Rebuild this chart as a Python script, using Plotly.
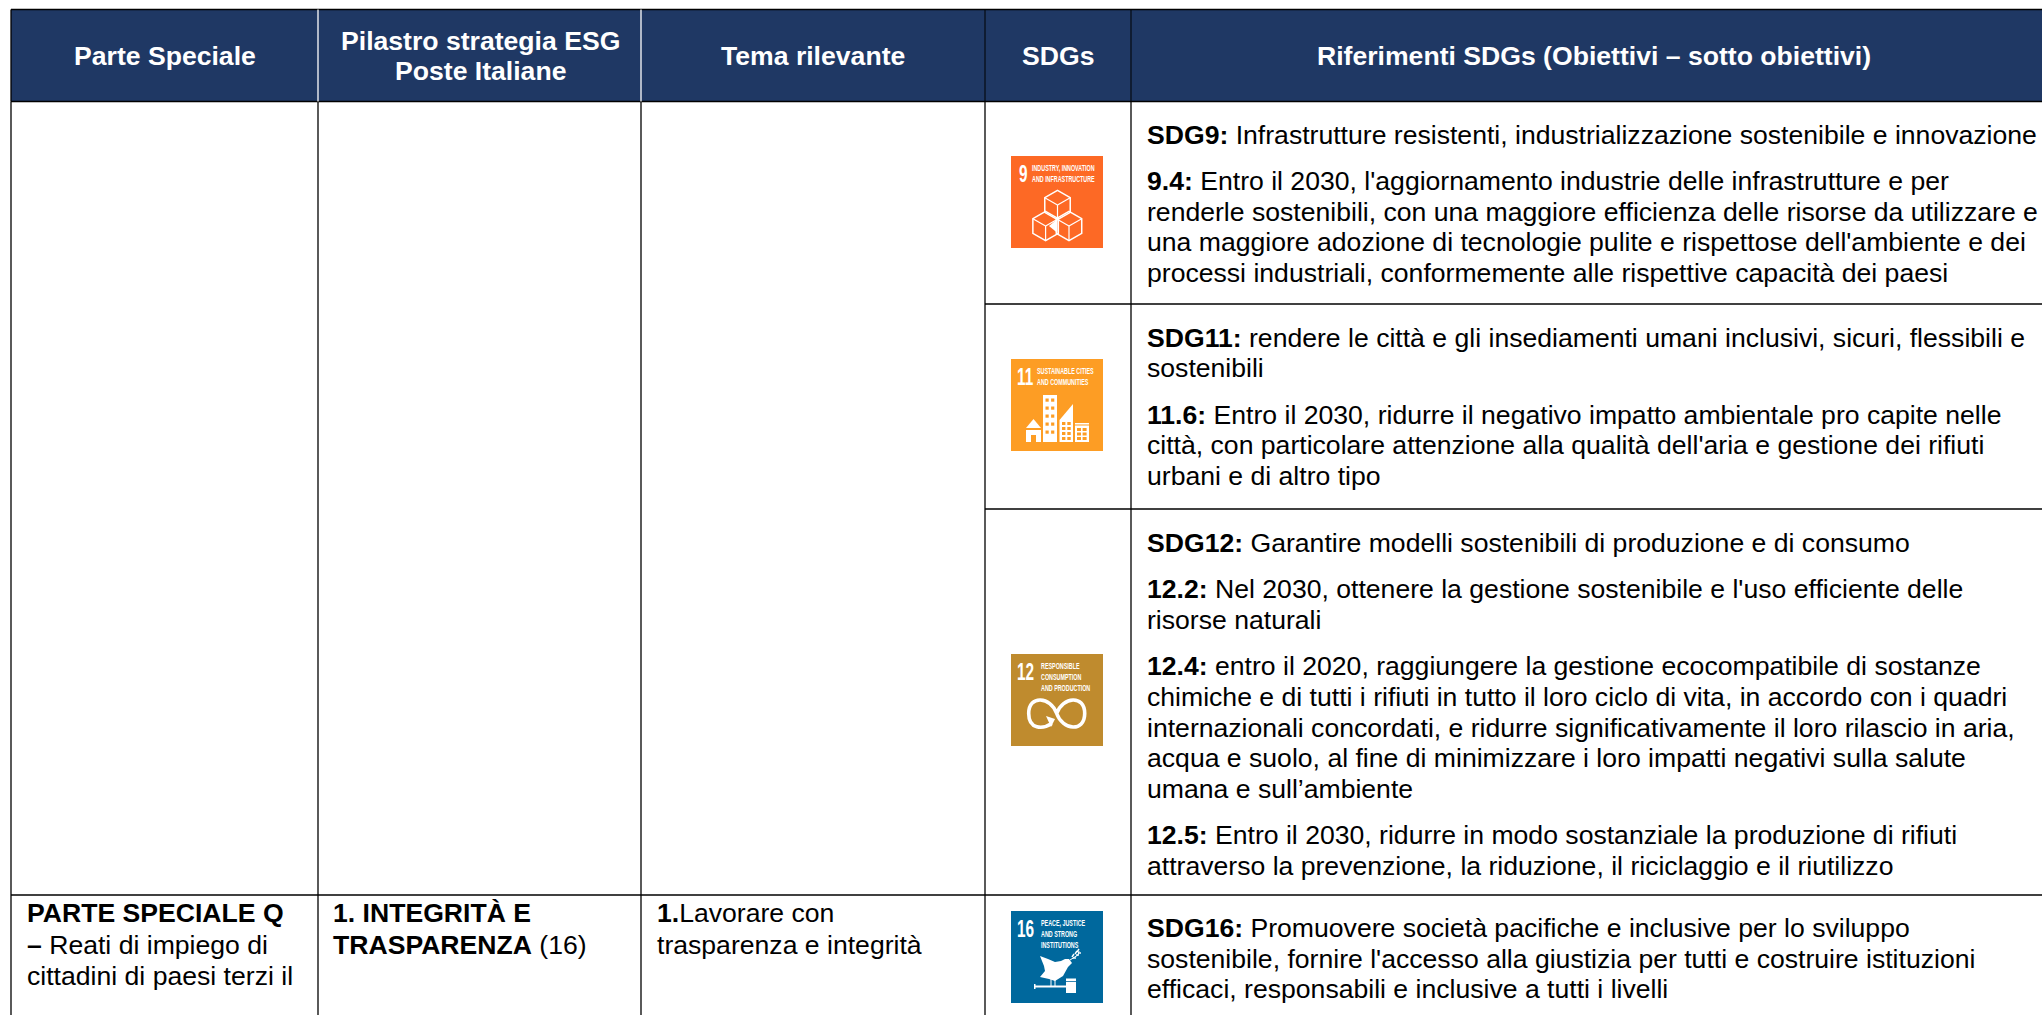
import plotly.graph_objects as go

# ---------- content ----------
header_labels = ["Parte Speciale", "Pilastro strategia ESG<br>Poste Italiane", "Tema rilevante", "SDGs",
                 "Riferimenti SDGs (Obiettivi – sotto obiettivi)"]

refs_sdg9 = [
    ("SDG9:", ["Infrastrutture resistenti, industrializzazione sostenibile e innovazione"]),
    ("9.4:", ["Entro il 2030, l'aggiornamento industrie delle infrastrutture e per",
              "renderle sostenibili, con una maggiore efficienza delle risorse da utilizzare e",
              "una maggiore adozione di tecnologie pulite e rispettose dell'ambiente e dei",
              "processi industriali, conformemente alle rispettive capacità dei paesi"]),
]
refs_sdg11 = [
    ("SDG11:", ["rendere le città e gli insediamenti umani inclusivi, sicuri, flessibili e", "sostenibili"]),
    ("11.6:", ["Entro il 2030, ridurre il negativo impatto ambientale pro capite nelle",
               "città, con particolare attenzione alla qualità dell'aria e gestione dei rifiuti",
               "urbani e di altro tipo"]),
]
refs_sdg12 = [
    ("SDG12:", ["Garantire modelli sostenibili di produzione e di consumo"]),
    ("12.2:", ["Nel 2030, ottenere la gestione sostenibile e l'uso efficiente delle", "risorse naturali"]),
    ("12.4:", ["entro il 2020, raggiungere la gestione ecocompatibile di sostanze",
               "chimiche e di tutti i rifiuti in tutto il loro ciclo di vita, in accordo con i quadri",
               "internazionali concordati, e ridurre significativamente il loro rilascio in aria,",
               "acqua e suolo, al fine di minimizzare i loro impatti negativi sulla salute",
               "umana e sull’ambiente"]),
    ("12.5:", ["Entro il 2030, ridurre in modo sostanziale la produzione di rifiuti",
               "attraverso la prevenzione, la riduzione, il riciclaggio e il riutilizzo"]),
]
refs_sdg16 = [
    ("SDG16:", ["Promuovere società pacifiche e inclusive per lo sviluppo",
                "sostenibile, fornire l'accesso alla giustizia per tutti e costruire istituzioni",
                "efficaci, responsabili e inclusive a tutti i livelli"]),
]
col1_lines = ["<b>PARTE SPECIALE Q</b>", "<b>–</b> Reati di impiego di", "cittadini di paesi terzi il"]
col2_lines = ["<b>1. INTEGRITÀ E</b>", "<b>TRASPARENZA</b> (16)"]
col3_lines = ["<b>1.</b>Lavorare con", "trasparenza e integrità"]

icon_numbers = ["9", "11", "12", "16"]
icon_labels = [["INDUSTRY, INNOVATION", "AND INFRASTRUCTURE"],
               ["SUSTAINABLE CITIES", "AND COMMUNITIES"],
               ["RESPONSIBLE", "CONSUMPTION", "AND PRODUCTION"],
               ["PEACE, JUSTICE", "AND STRONG", "INSTITUTIONS"]]
icon_colors = ["#fd6925", "#fd9d24", "#bf8b2e", "#00689d"]

# ---------- layout constants (pixels) ----------
W, H = 2042, 1015
FONT = "Liberation Sans"
HEAD_BG = "#1f3864"
col_x = [11, 318, 641, 985, 1131]
top_y, head_y = 9.5, 101.5
row_y = [304, 509, 895]
row_tops = [head_y, 304, 509, 895]
first_offset = [33, 33.5, 33.5, 33]
icon_x = 1011
icon_y = [156, 359, 654, 911]
ICON = 92
LINE = 30.6
PARA_GAP = 16
SIZE = 26.6
LABEL_SIZE = 9.6   # squeezed horizontally by the page script below
NUM_SIZE = 24

shapes, notes = [], []


def line(x0, y0, x1, y1, color="#000000", w=1.3):
    shapes.append(dict(type="line", x0=x0, y0=y0, x1=x1, y1=y1, line=dict(color=color, width=w), layer="above"))


def rect(x0, y0, x1, y1, fill):
    shapes.append(dict(type="rect", x0=x0, y0=y0, x1=x1, y1=y1, fillcolor=fill, line=dict(width=0), layer="above"))


def path(d, fill=None, stroke=None, w=0):
    s = dict(type="path", path=d, layer="above", line=dict(width=w, color=stroke or "rgba(0,0,0,0)"))
    if fill:
        s["fillcolor"] = fill
    shapes.append(s)


def text(x, y, s, size=SIZE, color="#000000", anchor="left"):
    notes.append(dict(x=x, y=y, text=s, showarrow=False, xanchor=anchor, yanchor="middle", align=anchor,
                      font=dict(family=FONT, size=size, color=color), borderpad=0, xref="x", yref="y"))


# ---------- table frame ----------
rect(col_x[0], top_y, W, head_y, HEAD_BG)
line(col_x[0], top_y, W, top_y)
line(col_x[0], head_y, W, head_y)
for y in row_y:
    line(col_x[0] if y == row_y[-1] else col_x[3], y, W, y)
for x in col_x:
    line(x, head_y, x, H)
line(col_x[0], top_y, col_x[0], head_y)
line(col_x[1], top_y, col_x[1], head_y, "#ffffff", 1.3)
line(col_x[2], top_y, col_x[2], head_y, "#ffffff", 1.3)
line(col_x[3], top_y, col_x[3], head_y, "#000000", 1)
line(col_x[4], top_y, col_x[4], head_y, "#000000", 1)

# ---------- header ----------
head_cx = [165, 480, 813, 1058, 1594]
for cx, lab in zip(head_cx, header_labels):
    parts = lab.split("<br>")
    for k, p in enumerate(parts):
        text(cx, 56 + (k - (len(parts) - 1) / 2) * 30.4, f"<b>{p}</b>", size=26.6, color="#ffffff", anchor="center")

# ---------- right column paragraphs ----------
for top, off, paras in zip(row_tops, first_offset, [refs_sdg9, refs_sdg11, refs_sdg12, refs_sdg16]):
    y = top + off
    for bold, lines in paras:
        for k, ln in enumerate(lines):
            text(1146, y, (f"<b>{bold}</b> " if k == 0 else "") + ln)
            y += LINE
        y += PARA_GAP

# ---------- left columns of the last row ----------
for x, lines in zip([26, 332, 656], [col1_lines, col2_lines, col3_lines]):
    for k, ln in enumerate(lines):
        text(x, 913 + k * 31.5, ln)


# ---------- SDG icons ----------
def P(iy, pts, close=True):
    d = "M " + " L ".join(f"{icon_x + a:.2f},{iy + b:.2f}" for a, b in pts)
    return d + (" Z" if close else "")


def cube(iy, cx, cy, r):
    dx = r * 0.866
    hexa = [(cx, cy - r), (cx + dx, cy - r / 2), (cx + dx, cy + r / 2), (cx, cy + r), (cx - dx, cy + r / 2),
            (cx - dx, cy - r / 2)]
    path(P(iy, hexa), stroke="#ffffff", w=1.5)
    for a in (hexa[1], hexa[3], hexa[5]):
        path(P(iy, [(cx, cy), a], close=False), stroke="#ffffff", w=1.2)


label_left = {"9": 20, "11": 24.7, "12": 29, "16": 29}
num_left = {"9": 6.7, "11": 5, "12": 5, "16": 5}
for n, labs, col, iy in zip(icon_numbers, icon_labels, icon_colors, icon_y):
    rect(icon_x, iy, icon_x + ICON, iy + ICON, col)
    text(icon_x + num_left[n], iy + 17, f"<b>{n}</b>", size=NUM_SIZE, color="#ffffff")
    for k, lab in enumerate(labs):
        text(icon_x + label_left[n], iy + 11 + k * 11, f"<b>{lab}</b>", size=LABEL_SIZE, color="#ffffff")

# 9: cubes
iy = icon_y[0]
cube(iy, 46.5, 49, 14.7)
cube(iy, 34.6, 70, 14.7)
cube(iy, 58, 70, 14.7)
path(P(iy, [(46.5, 63), (46.5, 77), (38, 70)]), fill="#ffffff")

# 11: buildings
iy = icon_y[1]
c = icon_colors[1]
path(P(iy, [(15, 69), (22.5, 60), (30, 69)]), fill="#ffffff")
rect(icon_x + 15, iy + 71, icon_x + 30, iy + 83, "#ffffff")
rect(icon_x + 20, iy + 76, icon_x + 25, iy + 83, c)
rect(icon_x + 32, iy + 36, icon_x + 46, iy + 83, "#ffffff")
for r_ in range(5):
    for c_ in range(2):
        wx = icon_x + 34.5 + c_ * 5.6
        wy = iy + 39.5 + r_ * 8
        rect(wx, wy, wx + 3.2, wy + 3.2, c)
path(P(iy, [(48.5, 83), (48.5, 61), (62, 45), (62, 83)]), fill="#ffffff")
for r_ in range(4):
    for c_ in range(2):
        wx = icon_x + 51 + c_ * 5.3
        wy = iy + 63 + r_ * 5
        rect(wx, wy, wx + 3.4, wy + 3, c)
rect(icon_x + 64, iy + 64, icon_x + 78, iy + 83, "#ffffff")
rect(icon_x + 64, iy + 65.5, icon_x + 78, iy + 66.5, c)
for r_ in range(3):
    for c_ in range(2):
        wx = icon_x + 66 + c_ * 5.6
        wy = iy + 69 + r_ * 4.5
        rect(wx, wy, wx + 4, wy + 3, c)

# 12: infinity
iy = icon_y[2]
x0, y0 = icon_x + 45.7, iy + 59.5
path(f"M {x0},{y0} C {x0 + 6},{y0 - 17} {x0 + 28},{y0 - 19} {x0 + 28},{y0} "
     f"C {x0 + 28},{y0 + 19} {x0 + 6},{y0 + 17} {x0},{y0} "
     f"C {x0 - 6},{y0 - 17} {x0 - 28},{y0 - 19} {x0 - 28},{y0} "
     f"C {x0 - 28},{y0 + 16} {x0 - 14},{y0 + 16} {x0 - 5},{y0 + 10}", stroke="#ffffff", w=3.6)
path(P(iy, [(35, 62), (44, 65), (40, 73)]), fill="#ffffff")

# 16: dove and gavel
iy = icon_y[3]
path(P(iy, [(29, 45), (37, 48), (44, 51), (50, 50), (54, 48), (58, 48), (61, 52), (57, 56), (52, 65), (44, 70),
            (38, 68), (29, 66), (34, 60), (33, 55)]), fill="#ffffff")
path(P(iy, [(59, 49), (67, 44), (68, 40)], close=False), stroke="#ffffff", w=1)
for a, b in [(61, 46), (64, 43), (66, 41)]:
    path(P(iy, [(a, b), (a + 2, b - 3)], close=False), stroke="#ffffff", w=1.4)
    path(P(iy, [(a + 1, b + 1), (a + 4, b + 1)], close=False), stroke="#ffffff", w=1.4)
path(P(iy, [(40, 68), (40, 75)], close=False), stroke="#ffffff", w=1)
path(P(iy, [(44, 68), (44, 75)], close=False), stroke="#ffffff", w=1)
rect(icon_x + 24, iy + 74.5, icon_x + 56, iy + 76.5, "#ffffff")
rect(icon_x + 23, iy + 73, icon_x + 24.5, iy + 78, "#ffffff")
rect(icon_x + 55, iy + 67.5, icon_x + 65, iy + 82, "#ffffff")
rect(icon_x + 55, iy + 70, icon_x + 65, iy + 70.8, col)

fig = go.Figure()
fig.update_layout(
    width=W, height=H, margin=dict(l=0, r=0, t=0, b=0), paper_bgcolor="#ffffff", plot_bgcolor="#ffffff",
    showlegend=False, shapes=shapes, annotations=notes,
    xaxis=dict(range=[0, W], visible=False, fixedrange=True),
    yaxis=dict(range=[H, 0], visible=False, fixedrange=True),
)

# The SDG icon lettering is condensed and no condensed face is installed: narrow those texts in place.
squeeze = """
document.body.style.margin='0';document.body.style.overflow='hidden';
document.querySelectorAll('.annotation-text').forEach(function(t){
  var fs=parseFloat(t.style.fontSize), f=fs<12?0.56:(fs<25?0.64:0);
  if(!f)return;
  t.setAttribute('textLength',t.getComputedTextLength()*f);
  t.setAttribute('lengthAdjust','spacingAndGlyphs');
});
"""
fig.write_html("out.html", post_script=squeeze, config=dict(displayModeBar=False))
